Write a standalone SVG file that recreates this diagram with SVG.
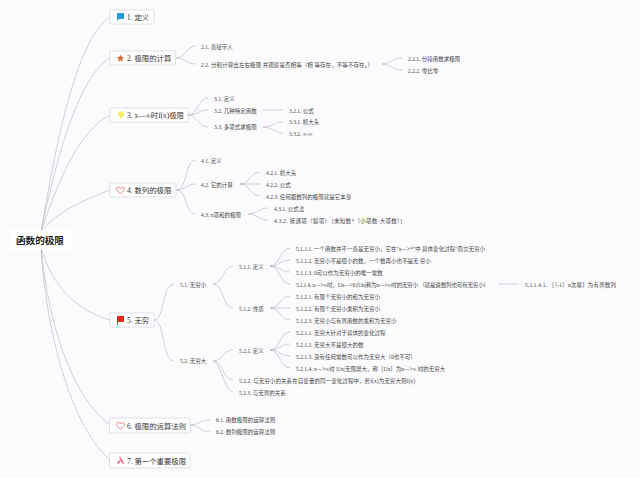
<svg xmlns="http://www.w3.org/2000/svg" width="640" height="478" viewBox="0 0 640 478">
<style>
text{font-family:"Liberation Serif","Noto Sans CJK SC",serif;fill:#444}
.t{font-size:7.4px;fill:#333;dominant-baseline:central}
.s{font-size:5.5px;dominant-baseline:central}
.b{fill:#fff;stroke:#d4d8dc;stroke-width:.8}
#connectors path{fill:none;stroke:#a9a9bd;stroke-width:.55}
</style>
<rect width="640" height="478" fill="#fbfbfd"/>
<g id="connectors">
<path d="M41 232C55 150 75 40 110 17"/>
<path d="M41 232C58 150 80 76 110 58"/>
<path d="M41 232C58 180 80 130 110 115"/>
<path d="M41 232C58 210 85 200 110 190"/>
<path d="M41 248C52 285 75 310 110 320"/>
<path d="M41 248C48 320 70 395 110 425"/>
<path d="M41 248C46 330 70 425 110 460"/>
<path d="M176 58C185 58 186 46 196 46"/>
<path d="M176 58C185 58 186 64 196 64"/>
<path d="M382 64C390 64 392 58 402 58"/>
<path d="M382 64C390 64 392 70 402 70"/>
<path d="M188 115C198 115 198 98 208 98"/>
<path d="M188 115C198 115 198 110 208 110"/>
<path d="M188 115C198 115 198 127 208 127"/>
<path d="M263 110H283"/>
<path d="M263 127C272 127 274 122 283 122"/>
<path d="M263 127C272 127 274 133 283 133"/>
<path d="M176 190C188 190 184 160 196 160"/>
<path d="M176 190C186 190 186 184 196 184"/>
<path d="M176 190C188 190 184 214 196 214"/>
<path d="M240 184C250 184 250 172 260 172"/>
<path d="M240 184H260"/>
<path d="M240 184C250 184 250 196 260 196"/>
<path d="M248 214C257 214 259 208 268 208"/>
<path d="M248 214C257 214 259 220 268 220"/>
<path d="M154 320C165 320 162 284 174 284"/>
<path d="M154 320C165 320 162 361 174 361"/>
<path d="M213 284C223 284 223 266 233 266"/>
<path d="M213 284C223 284 223 308 233 308"/>
<path d="M270 266C280 266 280 248 290 248"/>
<path d="M270 266C280 266 280 260 290 260"/>
<path d="M270 266C280 266 280 272 290 272"/>
<path d="M270 266C280 266 280 284 290 284"/>
<path d="M270 308C280 308 280 296 290 296"/>
<path d="M270 308H290"/>
<path d="M270 308C280 308 280 320 290 320"/>
<path d="M498 284H519"/>
<path d="M213 361C223 361 223 350 233 350"/>
<path d="M213 361C223 361 223 380 233 380"/>
<path d="M213 361C220 361 225 392 233 392"/>
<path d="M270 350C280 350 280 332 290 332"/>
<path d="M270 350C280 350 280 344 290 344"/>
<path d="M270 350C280 350 280 356 290 356"/>
<path d="M270 350C280 350 280 368 290 368"/>
<path d="M190 425C199 425 200 420 210 420"/>
<path d="M190 425C199 425 200 432 210 432"/>
</g>
<g id="root"><rect x="10" y="230" width="62" height="20" fill="#fff"/><text x="16" y="240" style="font-size:9.6px;font-weight:700;fill:#222;dominant-baseline:central;font-family:'Noto Sans CJK SC',sans-serif">函数的极限</text></g>
<g id="n1"><rect class="b" x="110" y="10" width="44" height="14" rx="1"/><path d="M117 13h7v6h-5l-2 2z" fill="#1f9fd8"/><text class="t" x="127" y="17.500">1. 定义</text></g>
<g id="n2"><rect class="b" x="110" y="51" width="65.500" height="14" rx="1"/><path d="M120.500 54.500l1.100 2.600 2.700.2-2.100 1.800.7 2.700-2.400-1.500-2.400 1.500.7-2.700-2.100-1.800 2.700-.2z" fill="#e2662f"/><text class="t" x="127" y="58.500">2. 极限的计算</text></g>
<g id="n3"><rect class="b" x="110" y="108" width="78" height="14" rx="1"/><path d="M117.500 114l1.800-2.500h3.400l1.800 2.500-3.500 5z" fill="#f8ef62"/><text class="t" x="127" y="115.500">3. x—∞时f(x)极限</text></g>
<g id="n4"><rect class="b" x="110" y="183" width="66" height="14" rx="1"/><path d="M120.500 193.500c-5-3-4.500-6.500-2.200-6.500 1.200 0 1.800.8 2.200 1.500.4-.7 1-1.500 2.200-1.500 2.300 0 2.800 3.500-2.200 6.500z" fill="#fff" stroke="#d9534f" stroke-width=".7"/><text class="t" x="127" y="190.500">4. 数列的极限</text></g>
<g id="n5"><rect class="b" x="110" y="313" width="44" height="14" rx="1"/><path d="M117 316h7v6h-6v3h-1z" fill="#e8261f"/><text class="t" x="127" y="320.500">5. 无穷</text></g>
<g id="n6"><rect class="b" x="109.500" y="418" width="80.500" height="15" rx="1"/><path d="M120.500 429c-5-3-4.500-6.500-2.200-6.500 1.200 0 1.800.8 2.200 1.500.4-.7 1-1.500 2.200-1.500 2.300 0 2.800 3.500-2.200 6.500z" fill="#fff" stroke="#d9534f" stroke-width=".7"/><text class="t" x="127" y="426">6. 极限的运算法则</text></g>
<g id="n7"><rect class="b" x="109.500" y="453" width="80.500" height="15" rx="1"/><path d="M117 463l3-3 1 1-3 3zM121 458l3 5-1 1-3-5z" fill="#e8506a"/><circle cx="120" cy="457.500" r=".8" fill="#e8506a"/><text class="t" x="127" y="461">7. 第一个重要极限</text></g>
<g id="labels">
<text class="s" x="201" y="46.500">2.1. 直接带入</text>
<text class="s" x="201" y="64.500" textLength="172">2.2. 分别计算出左右极限 并观察是否相等（相 等存在，不等不存在。）</text>
<text class="s" x="408" y="58.500">2.2.1. 分段函数求极限</text>
<text class="s" x="408" y="70.500">2.2.2. 零比零</text>
<text class="s" x="214" y="98.500">3.1. 定义</text>
<text class="s" x="214" y="110.500">3.2. 几种特定函数</text>
<text class="s" x="214" y="127">3.3. 多项式求极限</text>
<text class="s" x="289" y="110.500">3.2.1. 公式</text>
<text class="s" x="289" y="122">3.3.1. 抓大头</text>
<text class="s" x="289" y="133.500">3.3.2. ∞-∞</text>
<text class="s" x="201" y="160.500">4.1. 定义</text>
<text class="s" x="201" y="184.500">4.2. 它的计算</text>
<text class="s" x="201" y="214.500">4.3. n项和的极限</text>
<text class="s" x="266" y="172.500">4.2.1. 抓大头</text>
<text class="s" x="266" y="184.500">4.2.2. 公式</text>
<text class="s" x="266" y="196.500">4.2.3. 任何跟数列的极限就是它本身</text>
<text class="s" x="274" y="208.500">4.3.1. 公式法</text>
<text class="s" x="274" y="220.500" textLength="128">4.3.2. 拆通项（裂项）   [未知数*（小项数-大项数）]</text>
<text class="s" x="180" y="284.500">5.1. 无穷小</text>
<text class="s" x="180" y="361">5.2. 无穷大</text>
<text class="s" x="239" y="266.500">5.1.1. 定义</text>
<text class="s" x="239" y="308.500">5.1.2. 性质</text>
<text class="s" x="296" y="248.500" textLength="189">5.1.1.1. 一个函数并不一直是无穷小，它在"x—&gt;*"中 具体变化过程"而言无穷小</text>
<text class="s" x="296" y="260.500">5.1.1.2. 无穷小不是很小的数，一个数再小也不是无 穷小</text>
<text class="s" x="296" y="272.500">5.1.1.3. 0可以作为无穷小的唯一常数</text>
<text class="s" x="296" y="284.500" textLength="193">5.1.1.4. n—&gt;∞时，Un—&gt;0 (Un)称为n—&gt;∞时的无穷小 （就是说数列也可有无穷小）</text>
<text class="s" x="525" y="284.500" textLength="91">5.1.1.4.1. ［（-1）n次幂］为有界数列</text>
<text class="s" x="296" y="296.500">5.1.2.1. 有限个无穷小的和为无穷小</text>
<text class="s" x="296" y="308.500">5.1.2.2. 有限个无穷小乘积为无穷小</text>
<text class="s" x="296" y="320.500">5.1.2.3. 无穷小与有界函数的乘积为无穷小</text>
<text class="s" x="239" y="350.500">5.2.1. 定义</text>
<text class="s" x="296" y="332.500">5.2.1.1. 无穷大针对于具体的变化过程</text>
<text class="s" x="296" y="344.500">5.2.1.2. 无穷大不是很大的数</text>
<text class="s" x="296" y="356.500">5.2.1.3. 没有任何常数可以作为无穷大（0也不可）</text>
<text class="s" x="296" y="368.500">5.2.1.4. n—&gt;∞时 |Un|无限增大，称［Un］为n—&gt;∞ 时的无穷大</text>
<text class="s" x="239" y="380.500" textLength="176">5.2.2. 与无穷小的关系在自变量的同一变化过程中，若f(x)为无穷大则f(x)</text>
<text class="s" x="239" y="392.500">5.2.3. 与无界的关系</text>
<text class="s" x="216" y="420">6.1. 函数极限的运算法则</text>
<text class="s" x="216" y="432">6.2. 数列极限的运算法则</text>
</g>
</svg>
